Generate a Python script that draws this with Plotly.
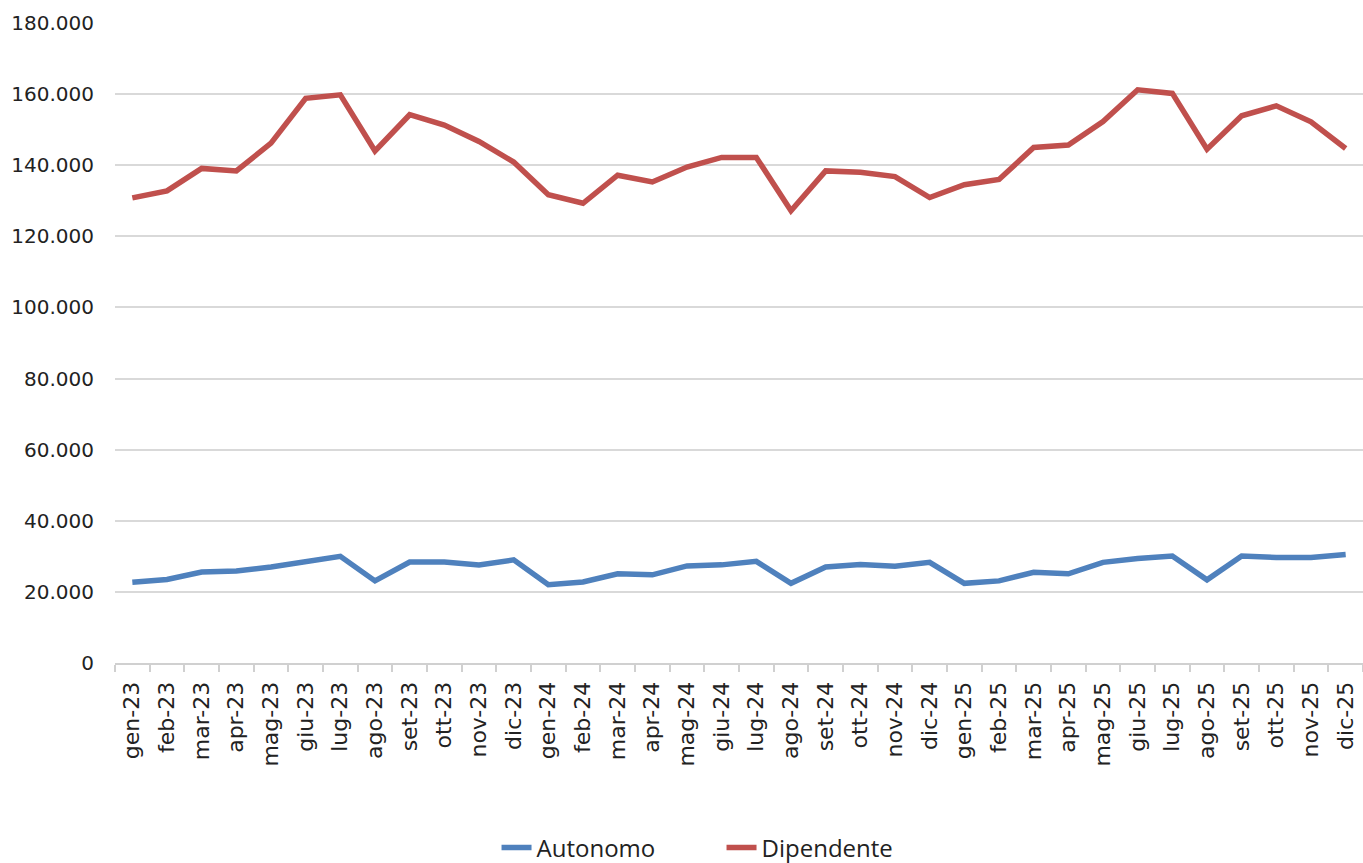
import plotly.graph_objects as go

months = ["gen-23","feb-23","mar-23","apr-23","mag-23","giu-23","lug-23","ago-23","set-23","ott-23","nov-23","dic-23",
          "gen-24","feb-24","mar-24","apr-24","mag-24","giu-24","lug-24","ago-24","set-24","ott-24","nov-24","dic-24",
          "gen-25","feb-25","mar-25","apr-25","mag-25","giu-25","lug-25","ago-25","set-25","ott-25","nov-25","dic-25"]

autonomo = [22700, 23500, 25600, 25900, 27000, 28400, 30000, 23100, 28400, 28400, 27600, 29000,
            22000, 22800, 25100, 24800, 27300, 27600, 28600, 22400, 27000, 27700, 27200, 28300,
            22400, 23100, 25500, 25100, 28300, 29400, 30100, 23400, 30100, 29700, 29700, 30500]

dipendente = [130800, 132800, 139100, 138400, 146200, 158800, 159800, 144000, 154200, 151300, 146700, 140900,
              131700, 129300, 137200, 135300, 139500, 142200, 142200, 127200, 138400, 138000, 136800, 130900,
              134500, 136000, 145000, 145700, 152300, 161200, 160200, 144500, 153900, 156700, 152200, 144700]

fig = go.Figure()
fig.add_trace(go.Scatter(x=months, y=autonomo, name="Autonomo", mode="lines",
                         line=dict(color="#4F81BD", width=5.5)))
fig.add_trace(go.Scatter(x=months, y=dipendente, name="Dipendente", mode="lines",
                         line=dict(color="#C0504D", width=5.5)))

fig.update_layout(
    width=1363, height=863,
    margin=dict(l=115, r=0, t=23, b=200, autoexpand=False),
    paper_bgcolor="white", plot_bgcolor="white",
    separators=",.",
    showlegend=True,
    legend=dict(orientation="h", x=0.486, xanchor="center", y=-0.289, yanchor="middle",
                font=dict(family="Open Sans, Noto Sans, sans-serif", size=24, color="#222"),
                entrywidth=180, tracegroupgap=0),
    font=dict(family="DejaVu Sans, Verdana, sans-serif", color="#222"),
)
fig.update_xaxes(
    type="category", tickangle=-90, tickfont=dict(size=22, color="#222"),
    showline=True, linecolor="#d0d0d0", linewidth=2, automargin=False,
    ticks="outside", tickson="boundaries", ticklen=7, tickcolor="#d0d0d0", tickwidth=2,
    ticklabelstandoff=8,
    showgrid=False, range=[-0.5, 35.5], fixedrange=True,
)
fig.update_yaxes(
    range=[0, 180000], dtick=20000, tickformat=",d", automargin=False,
    tickfont=dict(size=20, color="#222"),
    showgrid=True, gridcolor="#d9d9d9", gridwidth=2,
    zeroline=False, showline=False, ticks="", ticklabelstandoff=20,
)

fig.write_html("out.html", config={"displayModeBar": False},
               post_script="document.body.style.margin='0px';document.body.style.overflow='hidden';")
